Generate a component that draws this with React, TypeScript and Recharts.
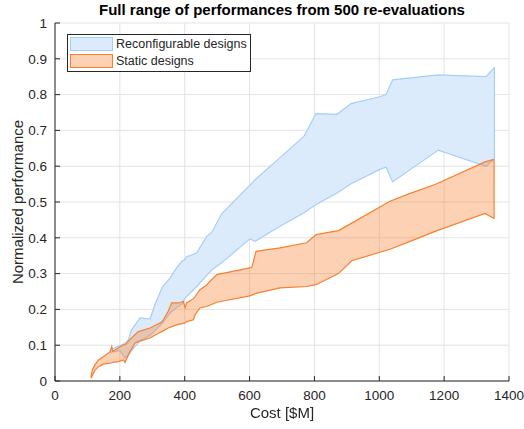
import React from 'react';
import { ComposedChart, Area, Line, XAxis, YAxis, CartesianGrid, Legend } from 'recharts';

// Reconfigurable designs (blue band)
const reconfigCost = [170, 200, 216, 226, 236, 262, 293, 308, 330, 355, 375, 391, 401, 406, 416, 437, 468, 483, 514, 601, 617, 694, 768, 805, 870, 913, 1002, 1021, 1041, 1182, 1329, 1355];
const reconfigLow = [0.080, 0.085, 0.064, 0.072, 0.085, 0.112, 0.128, 0.140, 0.160, 0.190, 0.205, 0.215, 0.232, 0.236, 0.245, 0.264, 0.295, 0.310, 0.330, 0.397, 0.390, 0.432, 0.470, 0.493, 0.525, 0.551, 0.591, 0.597, 0.556, 0.645, 0.600, 0.620];
const reconfigHigh = [0.088, 0.098, 0.106, 0.115, 0.143, 0.176, 0.173, 0.213, 0.260, 0.288, 0.316, 0.334, 0.340, 0.348, 0.350, 0.358, 0.404, 0.415, 0.467, 0.547, 0.562, 0.624, 0.684, 0.747, 0.745, 0.775, 0.794, 0.800, 0.841, 0.855, 0.850, 0.876];

// Static designs (orange band)
const staticCost = [111, 115, 123, 134, 149, 170, 175, 178, 195, 211, 216, 230, 247, 257, 293, 329, 334, 349, 360, 380, 396, 401, 406, 427, 432, 447, 468, 473, 499, 601, 607, 620, 694, 776, 805, 874, 915, 1033, 1095, 1172, 1326, 1354];
const staticLow = [0.008, 0.015, 0.030, 0.040, 0.047, 0.050, 0.051, 0.052, 0.054, 0.059, 0.052, 0.080, 0.106, 0.110, 0.120, 0.138, 0.140, 0.148, 0.152, 0.158, 0.161, 0.162, 0.166, 0.171, 0.185, 0.204, 0.208, 0.210, 0.220, 0.238, 0.240, 0.245, 0.260, 0.264, 0.269, 0.300, 0.336, 0.368, 0.390, 0.418, 0.468, 0.454];
const staticHigh = [0.010, 0.031, 0.045, 0.059, 0.068, 0.082, 0.096, 0.083, 0.092, 0.101, 0.101, 0.115, 0.130, 0.138, 0.148, 0.165, 0.171, 0.195, 0.218, 0.218, 0.222, 0.205, 0.218, 0.230, 0.236, 0.255, 0.268, 0.274, 0.297, 0.316, 0.318, 0.362, 0.372, 0.386, 0.409, 0.420, 0.441, 0.502, 0.524, 0.549, 0.612, 0.619];

const xTicks = [0, 200, 400, 600, 800, 1000, 1200, 1400];
const yTicks = [0, 0.1, 0.2, 0.3, 0.4, 0.5, 0.6, 0.7, 0.8, 0.9, 1];

const seriesNames = ['Reconfigurable designs', 'Static designs'];

const BLUE_FILL = '#DCEBFC';
const BLUE_STROKE = '#A6CEF7';
const ORANGE_FILL = '#FA7A28';
const ORANGE_OPACITY = 0.35;
const ORANGE_STROKE = '#F7802F';
const AXIS = '#262626';
const FONT = '"Liberation Sans", Arial, Helvetica, sans-serif';

const reconfigData = reconfigCost.map((c, i) => ({ cost: c, range: [reconfigLow[i], reconfigHigh[i]] }));
const staticData = staticCost.map((c, i) => ({ cost: c, range: [staticLow[i], staticHigh[i]] }));

const lastR = reconfigCost.length - 1;
const reconfigEdge = [
  { cost: reconfigCost[lastR], v: reconfigLow[lastR] },
  { cost: reconfigCost[lastR], v: reconfigHigh[lastR] },
];
const lastS = staticCost.length - 1;
const staticEdge = [
  { cost: staticCost[lastS], v: staticLow[lastS] },
  { cost: staticCost[lastS], v: staticHigh[lastS] },
];

const renderLegend = () => {
  const items = [
    { name: seriesNames[0], fill: BLUE_FILL, stroke: BLUE_STROKE, opacity: 1 },
    { name: seriesNames[1], fill: ORANGE_FILL, stroke: ORANGE_STROKE, opacity: ORANGE_OPACITY },
  ];
  return (
    <div
      style={{
        boxSizing: 'border-box',
        width: 184,
        height: 38,
        border: `1px solid ${AXIS}`,
        background: '#fff',
        padding: '2px 0 0 2px',
        fontFamily: FONT,
        fontSize: 12.5,
        color: AXIS,
      }}
    >
      {items.map((it, i) => (
        <div key={i} style={{ display: 'flex', alignItems: 'center', height: 14, marginBottom: 3 }}>
          <div style={{ position: 'relative', width: 43, height: 14, boxSizing: 'border-box', border: `1.5px solid ${it.stroke}` }}>
            <div style={{ position: 'absolute', inset: 0, background: it.fill, opacity: it.opacity }} />
          </div>
          <span style={{ marginLeft: 3, lineHeight: '14px', whiteSpace: 'nowrap' }}>{it.name}</span>
        </div>
      ))}
    </div>
  );
};

const tickStyle = { fontSize: 13.5, fill: AXIS, fontFamily: FONT };

export default function App() {
  return (
    <div style={{ position: 'fixed', left: 0, top: 0, width: 524, height: 429, background: '#fff', fontFamily: FONT }}>
      <div
        style={{
          position: 'absolute',
          left: 0,
          width: 564,
          top: 1,
          textAlign: 'center',
          fontWeight: 'bold',
          fontSize: 15,
          lineHeight: '18px',
          color: '#000',
          whiteSpace: 'nowrap',
        }}
      >
        Full range of performances from 500 re-evaluations
      </div>
      <ComposedChart
        width={524}
        height={429}
        margin={{ top: 23, right: 15, bottom: 18, left: 10 }}
      >
        <CartesianGrid stroke="#E3E3E3" strokeWidth={1} />
        <XAxis
          xAxisId={0}
          dataKey="cost"
          type="number"
          domain={[0, 1400]}
          ticks={xTicks}
          allowDuplicatedCategory={false}
          height={30}
          tickSize={-5}
          tickMargin={14}
          stroke={AXIS}
          tick={tickStyle}
          interval={0}
        />
        <XAxis
          xAxisId="top"
          orientation="top"
          type="number"
          domain={[0, 1400]}
          ticks={xTicks}
          height={0}
          tickSize={-5}
          tick={false}
          stroke={AXIS}
          interval={0}
        />
        <YAxis
          yAxisId={0}
          type="number"
          domain={[0, 1]}
          ticks={yTicks}
          width={45}
          tickSize={-5}
          tickMargin={13}
          stroke={AXIS}
          tick={tickStyle}
          interval={0}
          tickFormatter={(v: number) => String(v)}
        />
        <YAxis
          yAxisId="right"
          orientation="right"
          type="number"
          domain={[0, 1]}
          ticks={yTicks}
          width={0}
          tickSize={-5}
          tick={false}
          stroke={AXIS}
          interval={0}
        />
        <Area
          data={reconfigData}
          dataKey="range"
          name={seriesNames[0]}
          type="linear"
          fill={BLUE_FILL}
          fillOpacity={1}
          stroke={BLUE_STROKE}
          strokeWidth={1.2}
          isAnimationActive={false}
          dot={false}
          activeDot={false}
        />
        <Line
          data={reconfigEdge}
          dataKey="v"
          type="linear"
          stroke={BLUE_STROKE}
          strokeWidth={1.2}
          dot={false}
          activeDot={false}
          legendType="none"
          isAnimationActive={false}
        />
        <Area
          data={staticData}
          dataKey="range"
          name={seriesNames[1]}
          type="linear"
          fill={ORANGE_FILL}
          fillOpacity={ORANGE_OPACITY}
          stroke={ORANGE_STROKE}
          strokeWidth={1.2}
          isAnimationActive={false}
          dot={false}
          activeDot={false}
        />
        <Line
          data={staticEdge}
          dataKey="v"
          type="linear"
          stroke={ORANGE_STROKE}
          strokeWidth={1.2}
          dot={false}
          activeDot={false}
          legendType="none"
          isAnimationActive={false}
        />
        <Legend
          layout="vertical"
          align="center"
          verticalAlign="middle"
          content={renderLegend}
          wrapperStyle={{ left: 67, top: 34, width: 184, height: 38 }}
        />
      </ComposedChart>
      <div
        style={{
          position: 'absolute',
          left: 0,
          width: 564,
          top: 404,
          textAlign: 'center',
          fontSize: 15,
          lineHeight: '17px',
          color: AXIS,
          whiteSpace: 'nowrap',
        }}
      >
        Cost [$M]
      </div>
      <div
        style={{
          position: 'absolute',
          left: 17,
          top: 202,
          transform: 'translate(-50%, -50%) rotate(-90deg)',
          fontSize: 15,
          lineHeight: '17px',
          color: AXIS,
          whiteSpace: 'nowrap',
        }}
      >
        Normalized performance
      </div>
    </div>
  );
}
